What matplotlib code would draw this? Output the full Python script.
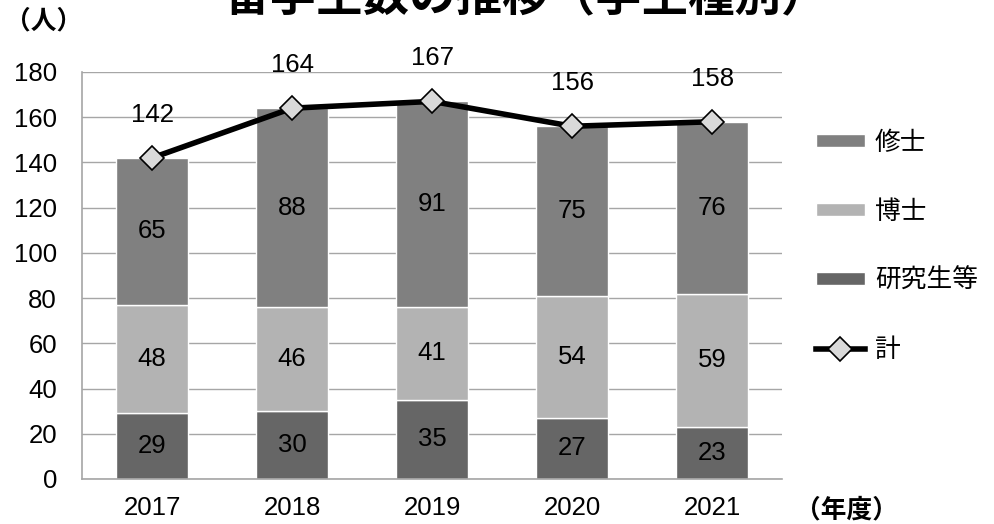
import matplotlib
matplotlib.use("Agg")
import matplotlib.pyplot as plt
import numpy as np

plt.rcParams['font.family'] = ['Liberation Sans', 'Noto Sans CJK JP']

# data
years = ["2017", "2018", "2019", "2020", "2021"]
kenkyusei = [29, 30, 35, 27, 23]
hakushi = [48, 46, 41, 54, 59]
shushi = [65, 88, 91, 75, 76]
total = [142, 164, 167, 156, 158]

c_ken = "#666666"
c_hak = "#b3b3b3"
c_shu = "#808080"
fs = 18.5

fig = plt.figure(figsize=(9.94, 5.24), dpi=100)
ax = fig.add_axes([0.0825, 0.0859, 0.7045, 0.7767])

x = np.arange(len(years))
w = 0.515
b1 = ax.bar(x, kenkyusei, w, color=c_ken, edgecolor="white", linewidth=1, label="研究生等", zorder=2)
b2 = ax.bar(x, hakushi, w, bottom=kenkyusei, color=c_hak, edgecolor="white", linewidth=1, label="博士", zorder=2)
bot3 = np.array(kenkyusei) + np.array(hakushi)
b3 = ax.bar(x, shushi, w, bottom=bot3, color=c_shu, edgecolor="white", linewidth=1, label="修士", zorder=2)
ln, = ax.plot(x, total, color="black", lw=4, marker="D", ms=12, mfc="#d9d9d9",
              mec="black", mew=1.2, label="計", zorder=4)

# labels in bars
for i in range(len(years)):
    ax.text(x[i], kenkyusei[i] / 2, str(kenkyusei[i]), ha="center", va="center", fontsize=fs, zorder=5)
    ax.text(x[i], kenkyusei[i] + hakushi[i] / 2, str(hakushi[i]), ha="center", va="center", fontsize=fs, zorder=5)
    ax.text(x[i], bot3[i] + shushi[i] / 2, str(shushi[i]), ha="center", va="center", fontsize=fs, zorder=5)
    ax.text(x[i], total[i] + 19, str(total[i]), ha="center", va="center", fontsize=fs, zorder=5)

ax.set_xlim(-0.5, len(years) - 0.5)
ax.set_ylim(0, 180)
ax.set_yticks(np.arange(0, 181, 20))
ax.set_xticks(x)
ax.set_xticklabels(years)
ax.tick_params(axis="both", length=0, labelsize=fs)
ax.tick_params(axis="x", pad=12)
ax.tick_params(axis="y", pad=18)
ax.grid(axis="y", color="#a6a6a6", lw=1, zorder=0)
for sp in ["top", "right"]:
    ax.spines[sp].set_visible(False)
for sp in ["left", "bottom"]:
    ax.spines[sp].set_color("#a6a6a6")
    ax.spines[sp].set_linewidth(1.2)

leg = fig.legend([b3, b2, b1, ln], ["修士", "博士", "研究生等", "計"],
                 loc="upper left", bbox_to_anchor=(0.80, 0.79), frameon=False,
                 fontsize=fs, labelspacing=1.75, handlelength=1.9, handletextpad=0.4,
                 handleheight=0.45, borderpad=0.3)

fig.text(0.005, 0.96, "（人）", fontsize=fs, fontweight="bold", ha="left", va="center")
fig.text(0.80, 0.027, "（年度）", fontsize=fs, fontweight="bold", ha="left", va="center")
fig.text(0.529, 0.962, "留学生数の推移（学生種別）", fontsize=33.5, fontweight="bold",
         ha="center", va="bottom")

fig.savefig("out.png", dpi=100)
